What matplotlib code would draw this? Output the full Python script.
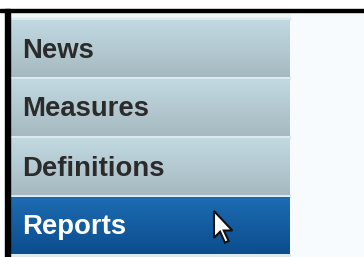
import numpy as np
import matplotlib.pyplot as plt
from matplotlib.patches import Rectangle, Polygon

# Menu content
labels = ["News", "Measures", "Definitions", "Reports"]
active = "Reports"

W, H = 364, 257
fig = plt.figure(figsize=(W / 100, H / 100), dpi=100)
ax = fig.add_axes([0, 0, 1, 1])
ax.set_xlim(0, W)
ax.set_ylim(H, 0)
ax.axis("off")

# page background
ax.add_patch(Rectangle((0, 0), W, H, color="white", zorder=0))
ax.add_patch(Rectangle((10, 12), W - 10, H - 12, color="#f8fbfd", zorder=0))

# black frame (top and left)
ax.add_patch(Rectangle((0, 9), W, 3, color="black", zorder=5))
ax.add_patch(Rectangle((5, 9), 5, H - 9, color="black", zorder=5))

x0, x1 = 10, 290
top, pitch, item_h = 20, 59, 57

# light strip above first item
ax.add_patch(Rectangle((x0, 12), x1 - x0, top - 12, color="#eef5f7", zorder=1))


def gradient(y0, y1, c_top, c_bot):
    t = np.linspace(0, 1, 64)[:, None]
    a = np.array(plt.matplotlib.colors.to_rgb(c_top))
    b = np.array(plt.matplotlib.colors.to_rgb(c_bot))
    img = (1 - t)[:, :, None] * a + t[:, :, None] * b
    img = np.repeat(img, 2, axis=1)
    ax.imshow(img, extent=(x0, x1, y1, y0), aspect="auto", zorder=2,
              interpolation="bilinear")


for i, lab in enumerate(labels):
    y0 = top + i * pitch
    y1 = y0 + item_h
    # separator line above item
    ax.add_patch(Rectangle((x0, y0 - 2), x1 - x0, 2, color="#dce9ee", zorder=1))
    if lab == active:
        gradient(y0, y1, "#1d6cb2", "#0b4d8e")
        col = "white"
    else:
        gradient(y0, y1, "#c2d9e1", "#a6b9c1")
        col = "#2b2b2b"
    ax.text(22, y0 + 37.5, lab, fontsize=19.8, fontweight="bold",
            family=["Liberation Sans", "DejaVu Sans"], color=col,
            va="baseline", ha="left", zorder=4)

# separator below the last item
ax.add_patch(Rectangle((x0, top + len(labels) * pitch - 2), x1 - x0, 2,
                       color="#dce9ee", zorder=1))

# mouse cursor on the active item
cx, cy = 214, 211
arrow = np.array([[0, 0], [0, 22], [5, 17], [9, 26], [12, 24.5], [8, 16],
                  [15, 16]], dtype=float) * 1.22
ax.add_patch(Polygon(arrow + [cx, cy], closed=True, facecolor="white",
                     edgecolor="#111111", linewidth=1.5, zorder=6))

fig.savefig("out.png", dpi=100)
